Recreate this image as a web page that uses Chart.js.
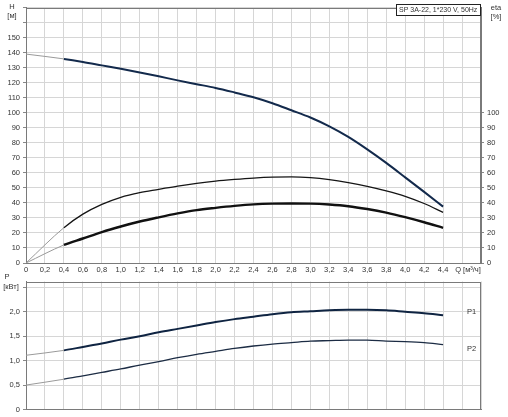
<!DOCTYPE html>
<html>
<head>
<meta charset="utf-8">
<script src="https://cdn.jsdelivr.net/npm/chart.js@4.4.1/dist/chart.umd.min.js"></script>
<style>
html, body { margin: 0; padding: 0; background: #fff; }
#wrap { position: relative; width: 508px; height: 417px; }
#wrap canvas { position: absolute; left: 0; }
</style>
</head>
<body>
<div id="wrap">
  <canvas id="headChart" width="508" height="274" style="top:0"></canvas>
  <canvas id="powerChart" width="508" height="143" style="top:274px"></canvas>
</div>
<script>
// flow points, m3/h
const flowQ = [0, 0.4, 0.6, 0.8, 1.0, 1.2, 1.4, 1.6, 1.8, 2.0, 2.2, 2.4, 2.6, 2.8, 3.0, 3.2, 3.4, 3.6, 3.8, 4.0, 4.2, 4.4];

// head, m
const headH = [139, 135.8, 133.8, 131.5, 129.2, 126.8, 124.2, 121.5, 119, 116.5, 113.5, 110.3, 106.3, 101.6, 96.8, 90.9, 83.9, 75.6, 66.6, 57, 47.3, 37.5];

// efficiency, %
const etaPump = [0, 23.5, 32.5, 39, 43.7, 46.8, 49, 51.2, 53, 54.5, 55.6, 56.5, 57.1, 57.3, 56.8, 55.5, 53.5, 51, 48, 44.4, 39.6, 33.7];
const etaTotal = [0, 12, 16.3, 20.6, 24.3, 27.6, 30.4, 33, 35.2, 36.7, 38, 39, 39.5, 39.6, 39.5, 38.9, 37.8, 35.9, 33.5, 30.5, 27.1, 23.4];

// power, kW
const powerP1 = [1.11, 1.21, 1.28, 1.35, 1.43, 1.5, 1.58, 1.65, 1.72, 1.79, 1.85, 1.9, 1.95, 1.99, 2.01, 2.03, 2.04, 2.04, 2.03, 2.0, 1.97, 1.93];
const powerP2 = [0.5, 0.62, 0.69, 0.76, 0.83, 0.91, 0.98, 1.06, 1.13, 1.19, 1.25, 1.3, 1.34, 1.37, 1.4, 1.41, 1.42, 1.42, 1.4, 1.39, 1.37, 1.33];

const titleText = 'SP 3A-22, 1*230 V, 50Hz';

const fontFamily = '"Liberation Sans", Arial, sans-serif';
const tickFont = { family: fontFamily, size: 7.5 };
const textColor = '#333';
const gridColor = '#d6d6d6';
const axisColor = '#7a7a7a';
const startColor = '#9a9a9a';

const toPoints = (values) => flowQ.map((q, i) => ({ x: q, y: values[i] }));
const comma = (v) => (v === 0 ? '0' : v.toFixed(1).replace('.', ','));

// first stretch (0..0.4) is drawn thin and grey
const curve = (values, color, width, axis) => ({
    data: toPoints(values),
    yAxisID: axis,
    borderColor: color,
    borderWidth: width,
    pointRadius: 0,
    fill: false,
    cubicInterpolationMode: 'monotone',
    segment: {
        borderColor: (ctx) => (ctx.p0DataIndex === 0 ? startColor : color),
        borderWidth: (ctx) => (ctx.p0DataIndex === 0 ? 1 : width),
    },
});

const framePlugin = {
    id: 'frame',
    beforeDatasetsDraw(chart) {
        const { ctx, chartArea: a } = chart;
        ctx.save();
        ctx.strokeStyle = axisColor;
        ctx.lineWidth = 1;
        ctx.strokeRect(Math.round(a.left) + 0.5, Math.round(a.top) + 0.5,
            Math.round(a.right - a.left) - 1, Math.round(a.bottom - a.top) - 1);
        ctx.restore();
    },
};

const labelsPlugin = (draw) => ({
    id: 'labels',
    afterDraw(chart) {
        const ctx = chart.ctx;
        ctx.save();
        ctx.fillStyle = textColor;
        ctx.font = `7.5px ${fontFamily}`;
        ctx.textBaseline = 'middle';
        draw(chart, ctx);
        ctx.restore();
    },
});

const baseOptions = {
    responsive: false,
    animation: false,
    events: [],
    plugins: { legend: { display: false }, tooltip: { enabled: false } },
};

new Chart(document.getElementById('headChart'), {
    type: 'line',
    data: {
        datasets: [
            curve(headH, '#132a4c', 2, 'h'),
            curve(etaPump, '#151515', 1.3, 'eta'),
            curve(etaTotal, '#111111', 2.4, 'eta'),
        ],
    },
    options: {
        ...baseOptions,
        layout: { padding: { top: 4, left: 0, right: 0, bottom: 0 } },
        scales: {
            x: {
                type: 'linear',
                min: 0,
                max: 4.8,
                afterFit: (s) => { s.height = 11; },
                ticks: {
                    stepSize: 0.2,
                    includeBounds: false,
                    autoSkip: false,
                    maxRotation: 0,
                    padding: 2,
                    font: tickFont,
                    color: textColor,
                    callback: (v) => {
                        const q = Math.round(v * 10) / 10;
                        return q > 4.4 ? '' : comma(q);
                    },
                },
                grid: { color: gridColor, drawTicks: false },
                border: { color: axisColor },
            },
            h: {
                position: 'left',
                min: 0,
                max: 170,
                afterFit: (s) => { s.width = 26; },
                ticks: {
                    stepSize: 10,
                    padding: 3,
                    font: tickFont,
                    color: textColor,
                    callback: (v) => (v <= 150 ? String(v) : ''),
                },
                grid: { color: gridColor, tickLength: 3, tickColor: '#888' },
                border: { color: axisColor },
            },
            eta: {
                position: 'right',
                min: 0,
                max: 170,
                afterFit: (s) => { s.width = 27; },
                ticks: {
                    stepSize: 10,
                    padding: 3,
                    font: tickFont,
                    color: textColor,
                    callback: (v) => (v <= 100 ? String(v) : ''),
                },
                grid: {
                    drawOnChartArea: false,
                    tickLength: 3,
                    tickColor: (c) => (c.tick && c.tick.value <= 100 ? '#888' : 'rgba(0,0,0,0)'),
                },
                border: { color: axisColor },
            },
        },
    },
    plugins: [framePlugin, labelsPlugin((chart, ctx) => {
        const a = chart.chartArea;
        ctx.textAlign = 'center';
        ctx.fillText('H', 12, 7);
        ctx.fillText('[м]', 12, 16);
        ctx.fillText('eta', 496, 8);
        ctx.fillText('[%]', 496, 17);
        ctx.fillText('Q [м³/ч]', 468, a.bottom + 7);

        // model box in the top right corner
        ctx.font = `7px ${fontFamily}`;
        const w = Math.ceil(ctx.measureText(titleText).width) + 6;
        const right = Math.round(a.right);
        ctx.fillStyle = '#fff';
        ctx.fillRect(right - w, 4, w, 11);
        ctx.strokeStyle = '#222';
        ctx.strokeRect(right - w + 0.5, 4.5, w - 1, 11);
        ctx.fillStyle = textColor;
        ctx.textAlign = 'left';
        ctx.fillText(titleText, right - w + 3, 10.5);
    })],
});

new Chart(document.getElementById('powerChart'), {
    type: 'line',
    data: {
        datasets: [
            curve(powerP1, '#0f2442', 2, 'p'),
            curve(powerP2, '#1c2c44', 1.3, 'p'),
        ],
    },
    options: {
        ...baseOptions,
        layout: { padding: { top: 3, left: 0, right: 27, bottom: 0 } },
        scales: {
            x: {
                type: 'linear',
                min: 0,
                max: 4.8,
                afterFit: (s) => { s.height = 4; },
                ticks: { stepSize: 0.2, includeBounds: false, autoSkip: false, display: false },
                grid: { color: gridColor, drawTicks: false },
                border: { color: axisColor },
            },
            p: {
                position: 'left',
                min: 0,
                max: 2.62,
                afterFit: (s) => { s.width = 26; },
                ticks: {
                    stepSize: 0.5,
                    includeBounds: false,
                    padding: 3,
                    font: tickFont,
                    color: textColor,
                    callback: (v) => (v > 2.2 ? '' : comma(Math.round(v * 10) / 10)),
                },
                grid: { color: gridColor, tickLength: 3, tickColor: '#888' },
                border: { color: axisColor },
            },
        },
    },
    plugins: [framePlugin, labelsPlugin((chart, ctx) => {
        const x = chart.scales.x;
        const y = chart.scales.p;
        ctx.textAlign = 'center';
        ctx.fillText('P', 7, 3);
        ctx.fillText('[кВт]', 11, 13);
        ctx.fillText('P1', x.getPixelForValue(4.7), y.getPixelForValue(2.0));
        ctx.fillText('P2', x.getPixelForValue(4.7), y.getPixelForValue(1.23));
    })],
});
</script>
</body>
</html>
